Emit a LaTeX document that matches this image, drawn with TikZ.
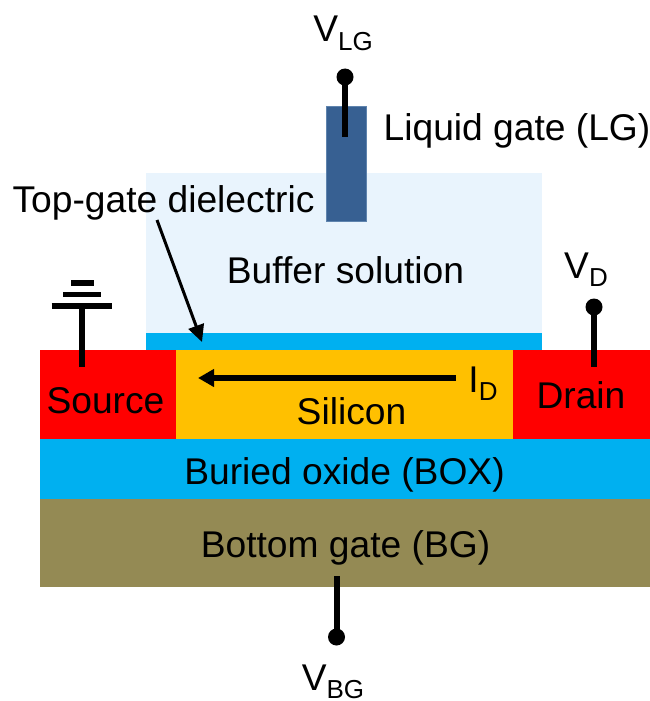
\documentclass[tikz,border=0pt]{standalone}
\usepackage{fontspec}
\setmainfont{Liberation Sans}
\usetikzlibrary{arrows.meta}
\definecolor{BufferC}{HTML}{E9F4FD}
\definecolor{CyanC}{HTML}{00B0F0}
\definecolor{RedC}{HTML}{FF0000}
\definecolor{GoldC}{HTML}{FFC000}
\definecolor{OliveC}{HTML}{948A54}
\definecolor{GateC}{HTML}{376092}
\definecolor{GateE}{HTML}{5F84AE}
\newcommand\subtxt[1]{\raisebox{-8.5pt}{\fontsize{26}{26}\selectfont #1}}
\tikzset{
  layer/.style={anchor=north west,inner sep=0pt,outer sep=0pt},
  lbl/.style={anchor=base,inner sep=0pt,text=black,font=\fontsize{37.2}{40}\selectfont},
  wire/.style={line width=6pt,black},
  pin/.style={circle,fill=black,inner sep=0pt,minimum size=17pt},
  pointer/.style={line width=3pt,black,-{Triangle[length=17pt,width=16pt]},shorten >=0pt},
  gnd/.style={line width=5.5pt,black}
}
\begin{document}
\begin{tikzpicture}[x=1pt,y=-1pt]
\useasboundingbox[fill=white] (0,0) rectangle (650,701);
% layers
\node[layer,fill=BufferC,minimum width=396.5pt,minimum height=160pt] (buffer) at (145.5,173) {};
\node[layer,fill=CyanC,minimum width=396.5pt,minimum height=17pt] (diel) at (145.5,333) {};
\node[layer,fill=RedC,minimum width=136pt,minimum height=89pt] (source) at (40,350) {};
\node[layer,fill=GoldC,minimum width=337pt,minimum height=89pt] (silicon) at (176,350) {};
\node[layer,fill=RedC,minimum width=137pt,minimum height=89pt] (drain) at (513,350) {};
\node[layer,fill=CyanC,minimum width=610pt,minimum height=60pt] (box) at (40,439) {};
\node[layer,fill=OliveC,minimum width=610pt,minimum height=88pt] (bg) at (40,499) {};
\node[layer,fill=GateC,draw=GateE,line width=0.8pt,minimum width=39.5pt,minimum height=115pt] (lg) at (326.5,106) {};
% text
\node[lbl] (tbuffer) at (345.5,283) {Buffer solution};
\node[lbl] (ttop) at (163.5,212) {Top-gate dielectric};
\node[lbl] (tlg) at (517,140) {Liquid gate (LG)};
\node[lbl] (tsource) at (105.5,413) {Source};
\node[lbl] (tdrain) at (581,408) {Drain};
\node[lbl] (tsilicon) at (351.5,424) {Silicon};
\node[lbl] (tbox) at (344.5,484) {Buried oxide (BOX)};
\node[lbl] (tbg) at (345.5,557) {Bottom gate (BG)};
\node[lbl] (vlg) at (343,42) {V\subtxt{LG}};
\node[lbl] (vd) at (586,278) {V\subtxt{D}};
\node[lbl] (id) at (483,392) {I\subtxt{D}};
\node[lbl] (vbg) at (333,690) {V\subtxt{BG}};
% pins
\node[pin] (plg) at (345,77) {};
\node[pin] (pd) at (594,307) {};
\node[pin] (pbg) at (336.5,637) {};
\coordinate (elg) at (345,137);
\coordinate (ed) at (594,367);
\coordinate (ebg) at (336.5,576);
\draw[wire] (plg.center) -- (elg);
\draw[wire] (pd.center) -- (ed);
\draw[wire] (pbg.center) -- (ebg);
% ground
\coordinate (g0) at (81.5,367);
\coordinate (g1) at (81.5,306);
\coordinate (g1a) at (51.5,306);
\coordinate (g1b) at (112,306);
\coordinate (g2a) at (63,294.5);
\coordinate (g2b) at (101,294.5);
\coordinate (g3a) at (71,283);
\coordinate (g3b) at (93.5,283);
\draw[wire] (g0) -- (g1);
\draw[gnd] (g1a) -- (g1b);
\draw[gnd] (g2a) -- (g2b);
\draw[gnd] (g3a) -- (g3b);
% arrows
\coordinate (a0) at (157,220);
\coordinate (a1) at (202,342);
\draw[pointer] (a0) -- (a1);
\coordinate (i0) at (456,378);
\coordinate (i1) at (198,378);
\draw[pointer,line width=5.5pt,-{Triangle[length=16pt,width=17pt]}] (i0) -- (i1);
\end{tikzpicture}
\end{document}
